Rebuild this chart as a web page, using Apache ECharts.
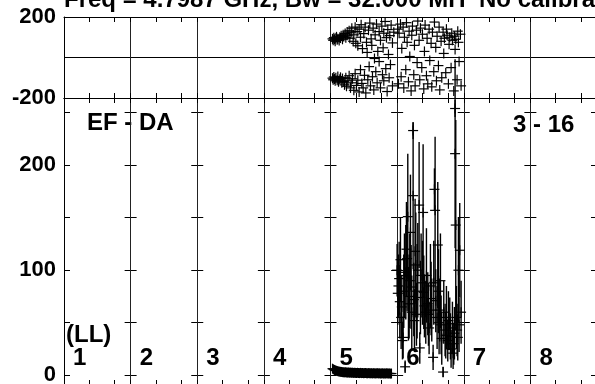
<!DOCTYPE html>
<html><head><meta charset="utf-8">
<script src="https://cdn.jsdelivr.net/npm/echarts@6/dist/echarts.min.js"></script>
<style>html,body{margin:0;padding:0;background:#fff}#c{width:595px;height:384px}</style>
</head><body><div id="c"></div>
<script>
// ---- data (x in panel-division units: division k spans [k-1, k]) ----
const titleText = 'Freq = 4.7987 GHz, Bw = 32.000 MH';
const titleText2 = 'No calibration applied';
const baselineLabel = 'EF - DA';
const sourceLabel = '3 - 16';
const polLabel = '(LL)';
const divisionLabels = ['1','2','3','4','5','6','7','8'];
const phaseTickLabels = [-200, 200];
const ampTickLabels = [0, 100, 200];

// phase (deg) vs time, division 5
const phaseDiv5Upper = [[4.03,92],[4.04,85],[4.05,98],[4.06,90],[4.07,80],[4.08,95],[4.09,102],[4.10,88],[4.11,93],[4.13,84],
 [4.14,100],[4.15,96],[4.16,108],[4.18,90],[4.19,112],[4.20,104],[4.22,118],[4.23,98],[4.25,126],[4.26,110],[4.28,132],[4.29,95],
 [4.31,122],[4.32,145],[4.34,80],[4.35,112],[4.37,150],[4.38,70],[4.40,128],[4.41,58],[4.43,140],[4.45,100],[4.46,162],[4.48,44],
 [4.50,118],[4.52,150],[4.54,75],[4.55,25],[4.57,135],[4.59,170],[4.61,92],[4.62,60],[4.64,145],[4.66,-5],[4.67,112],[4.69,165],
 [4.71,30],[4.73,128],[4.75,85],[4.77,155],[4.79,48],[4.80,120],[4.82,178],[4.84,98],[4.86,138],[4.87,15],[4.89,108],[4.91,160],
 [4.93,72],[4.95,125]];
const phaseDiv5Lower = [[4.03,-102],[4.04,-110],[4.05,-96],[4.06,-106],[4.07,-115],[4.08,-100],[4.10,-112],[4.11,-94],[4.12,-120],
 [4.14,-108],[4.15,-98],[4.17,-125],[4.18,-104],[4.20,-118],[4.21,-135],[4.23,-100],[4.24,-142],[4.26,-115],[4.28,-90],[4.30,-150],
 [4.31,-125],[4.33,-105],[4.35,-162],[4.37,-80],[4.39,-138],[4.41,-112],[4.43,-170],[4.45,-60],[4.47,-128],[4.49,-150],[4.51,-88],
 [4.53,-175],[4.56,-110],[4.58,-45],[4.60,-140],[4.63,-95],[4.65,-160],[4.68,-70],[4.70,-125],[4.73,-20],[4.75,-150],[4.78,-85],
 [4.80,-115],[4.83,-55],[4.85,-168],[4.88,-100],[4.90,-35],[4.93,-140]];
// phase (deg) vs time, division 6
const phaseDiv6 = [[5.01,140],[5.02,-130],[5.03,120],[5.05,165],[5.06,-95],[5.07,45],[5.09,150],[5.10,-150],[5.11,100],[5.13,-60],
 [5.14,172],[5.15,75],[5.17,-120],[5.18,130],[5.19,5],[5.21,-165],[5.22,110],[5.23,155],[5.25,-85],[5.26,60],[5.27,-140],[5.29,135],
 [5.30,-25],[5.31,180],[5.33,85],[5.34,-110],[5.35,145],[5.37,-50],[5.38,115],[5.40,-155],[5.41,30],[5.42,160],[5.44,-90],[5.45,95],
 [5.46,-130],[5.48,140],[5.49,-15],[5.51,70],[5.52,-145],[5.53,125],[5.55,-70],[5.56,175],[5.58,50],[5.59,-115],[5.60,105],[5.62,-40],
 [5.63,150],[5.64,-160],[5.66,80],[5.67,-100],[5.69,125],[5.70,20],[5.71,95],[5.73,-75],[5.74,140],[5.75,110],[5.77,-130],[5.78,65],
 [5.79,100],[5.81,-50],[5.82,120],[5.83,85],[5.85,-165],[5.86,105],[5.87,40],[5.88,90],[5.90,-110],[5.91,130],[5.92,75],[5.93,-20],
 [5.95,115],[5.96,-140]];

// amplitude vs time, division 5
const ampDiv5 = [[4.030,6.2],[4.045,5.6],[4.060,5.0],[4.075,4.6],[4.090,4.2],[4.105,3.9],[4.120,3.6],[4.135,3.4],[4.150,3.2],[4.165,3.1],
 [4.180,2.9],[4.195,2.8],[4.210,2.7],[4.225,2.8],[4.240,2.6],[4.255,2.5],[4.270,2.6],[4.285,2.4],[4.300,2.5],[4.315,2.3],[4.330,2.4],
 [4.345,2.2],[4.360,2.3],[4.375,2.2],[4.390,2.1],[4.405,2.3],[4.420,2.1],[4.435,2.0],[4.450,2.2],[4.465,2.0],[4.480,2.1],[4.495,1.9],
 [4.510,2.0],[4.525,2.1],[4.540,1.9],[4.555,1.8],[4.570,2.0],[4.585,1.9],[4.600,1.8],[4.615,1.9],[4.630,1.7],[4.645,1.9],[4.660,1.8],
 [4.675,1.7],[4.690,1.8],[4.705,1.9],[4.720,1.7],[4.735,1.8],[4.750,1.6],[4.765,1.7],[4.780,1.8],[4.795,1.6],[4.810,1.7],[4.825,1.6],
 [4.840,1.8],[4.855,1.7],[4.870,1.6],[4.885,1.7],[4.900,1.5],[4.915,1.6]];
// amplitude vs time with error, division 6: [time, amp, err]
const ampDiv6 = [[5.00,100,25],[5.02,85,30],[5.04,70,35],[5.06,55,30],[5.09,36,20],[5.11,95,40],[5.12,8,6],[5.14,120,45],
 [5.15,111,50],[5.16,151,60],[5.18,75,40],[5.19,90,45],[5.20,136,55],[5.22,60,35],[5.24,233,8],[5.24,171,70],[5.26,52,30],
 [5.28,105,50],[5.30,80,45],[5.33,162,60],[5.34,26,15],[5.36,95,40],[5.39,155,65],[5.40,79,35],[5.43,60,30],[5.46,68,30],
 [5.48,45,25],[5.50,85,40],[5.52,62,30],[5.54,17,12],[5.56,177,20],[5.57,157,70],[5.58,71,30],[5.61,124,60],[5.63,50,30],
 [5.65,90,45],[5.67,35,25],[5.69,3,5],[5.72,43,25],[5.74,55,30],[5.76,33,20],[5.79,49,25],[5.81,25,18],[5.84,21,15],
 [5.86,40,25],[5.87,254,8],[5.87,211,90],[5.88,143,100],[5.90,43,25],[5.92,100,50],[5.94,119,45],[5.96,60,30],
 [5.01,78,30],[5.03,92,35],[5.05,110,40],[5.07,65,30],[5.08,33,18],[5.10,80,35],[5.13,98,45],[5.17,68,35],[5.21,84,40],
 [5.25,72,35],[5.27,118,50],[5.29,58,30],[5.31,100,45],[5.35,74,35],[5.38,88,40],[5.41,66,30],[5.44,95,45],[5.47,58,30],
 [5.51,73,35],[5.55,88,40],[5.60,55,30],[5.62,80,40],[5.64,62,30],[5.66,48,28],[5.70,60,30],[5.73,38,22],[5.77,52,28],
 [5.80,37,22],[5.83,45,25],[5.85,30,20],[5.89,55,30],[5.91,36,22],[5.93,48,26]];

// ---- layout ----
const FONT = '"Liberation Sans", Arial, sans-serif';
const L = 64, W = 533, NDIV = 8, DIVW = W / NDIV;
const AMP_H = 314 * 1.05;
const minorOffsets = [0.38, 0.76];
const xTickValues = [];
for (let k = 0; k <= NDIV; k++) { xTickValues.push(k); if (k < NDIV) minorOffsets.forEach(o => xTickValues.push(k + o)); }

function crossItem(params, api) {
  const x = api.value(0), y = api.value(1), e = api.value(2);
  const c = api.coord([x, y]);
  const st = { stroke: '#000', lineWidth: 1.2 };
  const ch = [
    { type: 'line', shape: { x1: c[0] - 5, y1: c[1], x2: c[0] + 5, y2: c[1] }, style: st },
    { type: 'line', shape: { x1: c[0], y1: c[1] - 5, x2: c[0], y2: c[1] + 5 }, style: st }
  ];
  if (e > 0) {
    const lo = api.coord([x, y - e]), hi = api.coord([x, y + e]);
    ch.push({ type: 'line', shape: { x1: lo[0], y1: lo[1], x2: hi[0], y2: hi[1] }, style: { stroke: '#000', lineWidth: 1.4 } });
  }
  return { type: 'group', children: ch };
}

function tickAx(grid, pos, opts) {
  return Object.assign({
    type: 'value', gridIndex: grid, position: pos, min: 0, max: NDIV, interval: 1,
    axisLine: { show: true, onZero: false, lineStyle: { color: '#000', width: 1 } },
    axisTick: { show: true, inside: true, length: 5, customValues: xTickValues, lineStyle: { color: '#000', width: 1 } },
    axisLabel: { show: false },
    splitLine: { show: false }
  }, opts || {});
}
function splitAx(grid) {
  return { type: 'value', gridIndex: grid, position: 'top', min: 0, max: NDIV, interval: 1,
    axisLine: { show: false }, axisTick: { show: false }, axisLabel: { show: false },
    splitLine: { show: true, lineStyle: { color: '#222', width: 1 } } };
}

const chart = echarts.init(document.getElementById('c'), null, { renderer: 'canvas' });
chart.setOption({
  animation: false,
  backgroundColor: '#fff',
  grid: [
    { left: L, top: 17, width: W, height: 81, outerBoundsMode: 'none', containLabel: false },
    { left: L, top: 98, width: W, height: AMP_H, outerBoundsMode: 'none', containLabel: false }
  ],
  xAxis: [
    tickAx(0, 'top'),
    tickAx(0, 'bottom'),
    tickAx(1, 'top'),
    tickAx(1, 'bottom', { offset: -(AMP_H - 288), axisTick: { show: true, inside: true, length: 6, customValues: xTickValues, lineStyle: { color: '#000' } } }),
    splitAx(0),
    splitAx(1)
  ],
  yAxis: [
    { type: 'value', gridIndex: 0, min: -200, max: 200, interval: 200,
      axisLine: { show: true, lineStyle: { color: '#000' } }, axisTick: { show: false },
      axisLabel: { margin: 8, color: '#000', fontFamily: FONT, fontWeight: 'bold', fontSize: 22,
        formatter: v => phaseTickLabels.indexOf(v) >= 0 ? String(v) : '' },
      splitLine: { show: true, lineStyle: { color: '#000', width: 1 } } },
    { type: 'value', gridIndex: 1, min: -50, max: 264, interval: 50,
      axisLine: { show: true, lineStyle: { color: '#000' } }, axisTick: { show: false },
      axisLabel: { margin: 8, color: '#000', fontFamily: FONT, fontWeight: 'bold', fontSize: 22,
        formatter: v => ampTickLabels.indexOf(v) >= 0 ? String(v) : '' },
      splitLine: { show: true, lineStyle: { color: '#000', width: 1, type: [12, DIVW - 12], dashOffset: 6 } } }
  ],
  series: [
    { type: 'custom', xAxisIndex: 0, yAxisIndex: 0, renderItem: crossItem, data: phaseDiv5Upper, encode: { x: 0, y: 1 }, clip: true },
    { type: 'custom', xAxisIndex: 0, yAxisIndex: 0, renderItem: crossItem, data: phaseDiv5Lower, encode: { x: 0, y: 1 }, clip: true },
    { type: 'custom', xAxisIndex: 0, yAxisIndex: 0, renderItem: crossItem, data: phaseDiv6, encode: { x: 0, y: 1 }, clip: true },
    { type: 'custom', xAxisIndex: 2, yAxisIndex: 1, renderItem: crossItem, data: ampDiv5, encode: { x: 0, y: 1 } },
    { type: 'custom', xAxisIndex: 2, yAxisIndex: 1, renderItem: crossItem, data: ampDiv6, encode: { x: 0, y: 1 } }
  ],
  graphic: [
    { type: 'text', left: L, top: -12, style: { text: titleText, font: 'bold 24px ' + FONT, fill: '#000' } },
    { type: 'text', left: 479, top: -12, style: { text: titleText2, font: 'bold 24px ' + FONT, fill: '#000' } },
    { type: 'text', x: 87, y: 111, style: { text: baselineLabel, font: 'bold 24px ' + FONT, fill: '#000' } },
    { type: 'text', x: 513, y: 113, style: { text: sourceLabel, font: 'bold 24px ' + FONT, fill: '#000' } },
    { type: 'text', x: 66, y: 323, style: { text: polLabel, font: 'bold 24px ' + FONT, fill: '#000' } }
  ].concat(divisionLabels.map((t, k) => ({
    type: 'text', x: L + k * DIVW + 9, y: 346, style: { text: t, font: 'bold 24px ' + FONT, fill: '#000' }
  })))
});
</script></body></html>
